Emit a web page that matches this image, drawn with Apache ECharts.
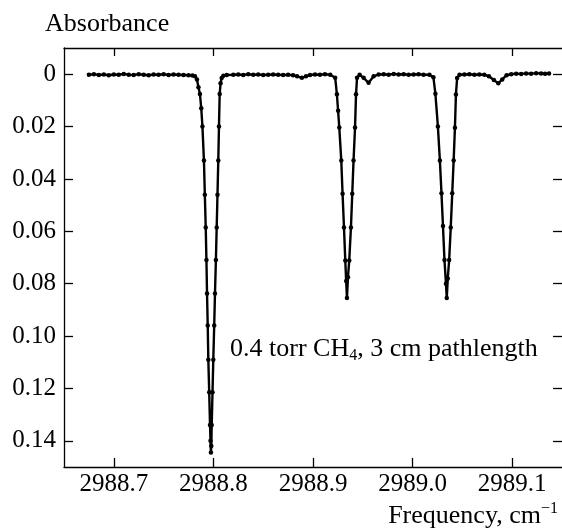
<!DOCTYPE html>
<html>
<head>
<meta charset="utf-8">
<script src="https://cdn.jsdelivr.net/npm/echarts@6/dist/echarts.min.js"></script>
<style>
html,body{margin:0;padding:0;background:#fff;}
#chart{width:562px;height:531px;}
</style>
</head>
<body>
<div id="chart"></div>
<script>
// ---- data ----
var freq = [
  2988.675, 2988.680, 2988.685, 2988.690, 2988.695, 2988.700, 2988.705, 2988.710, 2988.715, 2988.720,
  2988.725, 2988.730, 2988.735, 2988.740, 2988.745, 2988.750, 2988.755, 2988.760, 2988.765, 2988.770,
  2988.775, 2988.779,
  2988.7815, 2988.7835, 2988.7850, 2988.7865, 2988.7878, 2988.7890, 2988.7905, 2988.7914, 2988.7923, 2988.7930,
  2988.7936, 2988.7943, 2988.7949, 2988.7958, 2988.7966, 2988.7971, 2988.7975, 2988.7979, 2988.7983, 2988.7991,
  2988.7999, 2988.8008, 2988.8016, 2988.8025, 2988.8033, 2988.8041, 2988.8049, 2988.8056, 2988.8063, 2988.8072,
  2988.8083, 2988.8100, 2988.8134,
  2988.820, 2988.825, 2988.830, 2988.835, 2988.840, 2988.845, 2988.850, 2988.855, 2988.860, 2988.865,
  2988.870, 2988.875, 2988.880, 2988.884, 2988.8888, 2988.893, 2988.897, 2988.902, 2988.907, 2988.912,
  2988.9173,
  2988.9223, 2988.9240, 2988.9252, 2988.9264, 2988.9284, 2988.9297, 2988.9311, 2988.9324, 2988.9333, 2988.9341,
  2988.9351, 2988.9364, 2988.9381, 2988.9394, 2988.9407, 2988.9422, 2988.9432, 2988.9442, 2988.9468,
  2988.9508, 2988.9558, 2988.9609, 2988.9659,
  2988.971, 2988.976, 2988.981, 2988.986, 2988.991, 2988.996, 2989.001, 2989.006, 2989.011, 2989.0169,
  2989.0209, 2989.0229, 2989.0254, 2989.0274, 2989.0290, 2989.0305, 2989.0320, 2989.0335, 2989.0343, 2989.0353,
  2989.0367, 2989.0383, 2989.0398, 2989.0412, 2989.0425, 2989.0435, 2989.0447, 2989.0471,
  2989.052, 2989.057, 2989.062, 2989.067, 2989.072, 2989.0766, 2989.0816, 2989.0860, 2989.0900, 2989.0944,
  2989.099, 2989.104, 2989.109, 2989.114, 2989.119, 2989.124, 2989.129, 2989.133, 2989.137
];
var absorbance = [
  0.0002, 0.0000, 0.0003, 0.0001, 0.0004, 0.0001, 0.0002, -0.0001, 0.0002, 0.0003,
  0.0000, 0.0002, 0.0004, 0.0001, 0.0002, 0.0000, 0.0003, 0.0001, 0.0002, 0.0003,
  0.0004, 0.0005,
  0.0008, 0.0020, 0.0050, 0.0076, 0.0130, 0.0200, 0.0330, 0.0460, 0.0585, 0.0710,
  0.0837, 0.0960, 0.1090, 0.1215, 0.1340, 0.1400, 0.1445, 0.1420, 0.1340, 0.1215,
  0.1090, 0.0960, 0.0837, 0.0710, 0.0585, 0.0460, 0.0330, 0.0200, 0.0076, 0.0035,
  0.0015, 0.0006, 0.0003,
  0.0002, 0.0001, 0.0003, 0.0000, 0.0002, 0.0001, 0.0003, 0.0002, 0.0001, 0.0002,
  0.0003, 0.0002, 0.0004, 0.0008, 0.0014, 0.0008, 0.0003, 0.0001, 0.0002, 0.0000,
  0.0002,
  0.0014, 0.0077, 0.0140, 0.0204, 0.0330, 0.0457, 0.0585, 0.0711, 0.0790, 0.0855,
  0.0775, 0.0711, 0.0585, 0.0457, 0.0330, 0.0204, 0.0077, 0.0014, 0.0002,
  0.0014, 0.0033, 0.0008, 0.0001,
  0.0000, 0.0002, -0.0001, 0.0001, 0.0000, 0.0002, 0.0001, 0.0000, 0.0002, 0.0002,
  0.0012, 0.0075, 0.0200, 0.0330, 0.0455, 0.0580, 0.0710, 0.0800, 0.0855, 0.0780,
  0.0710, 0.0585, 0.0455, 0.0330, 0.0205, 0.0078, 0.0015, 0.0002,
  0.0001, 0.0000, 0.0002, 0.0001, 0.0002, 0.0008, 0.0022, 0.0035, 0.0020, 0.0004,
  0.0000, -0.0002, -0.0001, -0.0003, -0.0002, -0.0004, -0.0003, -0.0002, -0.0003
];
var xTicks = [2988.7, 2988.8, 2988.9, 2989.0, 2989.1];
var yTicks = [0, 0.02, 0.04, 0.06, 0.08, 0.10, 0.12, 0.14];

var points = freq.map(function (f, i) { return [f, absorbance[i]]; });

var FONT = 'Liberation Serif';
var chart = echarts.init(document.getElementById('chart'), null, { renderer: 'canvas' });

var tickStyle = { color: '#000', width: 1.3 };
chart.setOption({
  animation: false,
  backgroundColor: '#fff',
  grid: { left: 64, right: 0, top: 48, bottom: 64, containLabel: false },
  xAxis: [
    {
      type: 'value', position: 'bottom', min: 2988.65, max: 2989.15,
      axisLine: { show: true, onZero: false, lineStyle: { color: '#000', width: 1.3 } },
      axisTick: { show: true, inside: true, length: 9, customValues: xTicks, lineStyle: tickStyle },
      axisLabel: { show: true, customValues: xTicks, margin: 5, color: '#000', fontFamily: FONT, fontSize: 25,
        formatter: function (v) { return v.toFixed(1); } },
      splitLine: { show: false }
    },
    {
      type: 'value', position: 'top', min: 2988.65, max: 2989.15,
      axisLine: { show: true, onZero: false, lineStyle: { color: '#000', width: 1.3 } },
      axisTick: { show: true, inside: true, length: 8, customValues: xTicks, lineStyle: tickStyle },
      axisLabel: { show: false, customValues: xTicks },
      splitLine: { show: false }
    }
  ],
  yAxis: [
    {
      type: 'value', position: 'left', inverse: true, min: -0.01, max: 0.15,
      axisLine: { show: true, onZero: false, lineStyle: { color: '#000', width: 1.3 } },
      axisTick: { show: true, inside: true, length: 9, customValues: yTicks, lineStyle: tickStyle },
      axisLabel: { show: true, customValues: yTicks, margin: 8, color: '#000', fontFamily: FONT, fontSize: 25,
        formatter: function (v) { return v === 0 ? '0' : v.toFixed(2); } },
      splitLine: { show: false }
    },
    {
      type: 'value', position: 'right', inverse: true, min: -0.01, max: 0.15,
      axisLine: { show: false },
      axisTick: { show: true, inside: true, length: 9, customValues: yTicks, lineStyle: tickStyle },
      axisLabel: { show: false, customValues: yTicks },
      splitLine: { show: false }
    }
  ],
  series: [{
    type: 'line',
    xAxisIndex: 0, yAxisIndex: 0,
    data: points,
    showSymbol: true,
    symbol: 'circle',
    symbolSize: 4.5,
    itemStyle: { color: '#000' },
    lineStyle: { color: '#000', width: 2.4 },
    clip: true
  }],
  graphic: [
    { type: 'text', x: 45, y: 24, style: { text: 'Absorbance', fill: '#000', font: '26px "Liberation Serif"',
        align: 'left', verticalAlign: 'middle' } },
    { type: 'text', x: 230, y: 349, style: {
        text: '{a|0.4 torr CH}{s|4}{a|, 3 cm pathlength}',
        align: 'left', verticalAlign: 'middle',
        rich: {
          a: { fontFamily: FONT, fontSize: 26, lineHeight: 30, verticalAlign: 'middle', fill: '#000' },
          s: { fontFamily: FONT, fontSize: 16, lineHeight: 16, verticalAlign: 'bottom', fill: '#000' }
        } } },
    { type: 'text', x: 558, y: 516, style: {
        text: '{a|Frequency, cm}{p|\u22121}',
        align: 'right', verticalAlign: 'middle',
        rich: {
          a: { fontFamily: FONT, fontSize: 26, lineHeight: 30, verticalAlign: 'middle', fill: '#000' },
          p: { fontFamily: FONT, fontSize: 16, lineHeight: 16, verticalAlign: 'top', fill: '#000' }
        } } }
  ]
});
</script>
</body>
</html>
